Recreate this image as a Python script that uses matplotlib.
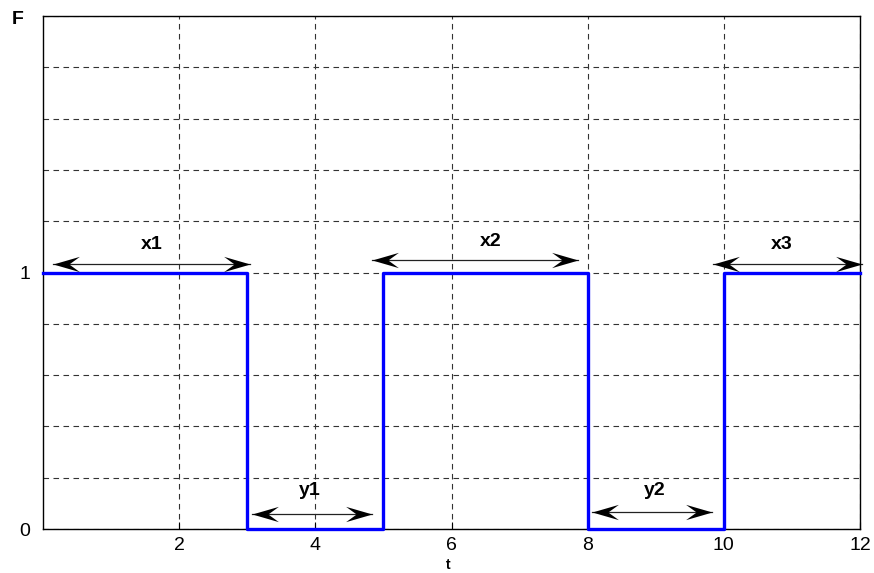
import matplotlib
matplotlib.use("Agg")
import matplotlib.pyplot as plt
from matplotlib.path import Path

plt.rcParams['font.family'] = ['Liberation Sans', 'DejaVu Sans']

# Data
t_edges = [0, 3, 5, 8, 10, 12]
F_levels = [1, 0, 1, 0, 1, 1]
x_ticks = [2, 4, 6, 8, 10, 12]
x_tick_labels = ['2', '4', '6', '8', '10', '12']
y_ticks = [0, 0.2, 0.4, 0.6, 0.8, 1.0, 1.2, 1.4, 1.6, 1.8, 2.0]
y_tick_labels = ['0', '', '', '', '', '1', '', '', '', '', '']

# Interval annotations: (label, start, end, arrow y, label x, label y)
intervals = [
    ('x1', 0.15, 3.04, 1.035, 1.6, 1.11),
    ('x2', 4.83, 7.86, 1.05, 6.57, 1.12),
    ('x3', 9.84, 12.03, 1.035, 10.85, 1.11),
    ('y1', 3.07, 4.83, 0.058, 3.92, 0.15),
    ('y2', 8.06, 9.83, 0.066, 8.99, 0.15),
]

fig = plt.figure(figsize=(8.74, 5.73), dpi=100)
ax = fig.add_axes([43/874, 1-529/573, (860-43)/874, (529-16)/573])

ax.plot(t_edges, F_levels, drawstyle='steps-post', color='#0000ff',
        linewidth=2.4, clip_on=False, zorder=3)

ax.set_xlim(0, 12)
ax.set_ylim(0, 2)
ax.set_xticks(x_ticks)
ax.set_xticklabels(x_tick_labels)
ax.set_yticks(y_ticks)
ax.set_yticklabels(y_tick_labels)
ax.tick_params(direction='in', length=5, labelsize=14, width=0.8, pad=6)
ax.tick_params(axis='y', length=0, pad=9)
ax.grid(True, linestyle=(0, (5, 4)), color='#333333', linewidth=0.8)
for s in ax.spines.values():
    s.set_linewidth(1.0)
    s.set_color('black')

# barbed arrow heads (pointing right / left), tip at origin
right_head = Path([(0, 0), (-1, 0.29), (-0.6, 0), (-1, -0.29), (0, 0)],
                  [Path.MOVETO, Path.LINETO, Path.LINETO, Path.LINETO, Path.CLOSEPOLY])
left_head = Path([(0, 0), (1, 0.29), (0.6, 0), (1, -0.29), (0, 0)],
                 [Path.MOVETO, Path.LINETO, Path.LINETO, Path.LINETO, Path.CLOSEPOLY])

for lab, a, b, yy, lx, ly in intervals:
    ax.plot([a, b], [yy, yy], color='#222222', linewidth=0.9, clip_on=False, zorder=4)
    ax.plot([b], [yy], marker=right_head, markersize=38, color='black',
            markeredgewidth=0, clip_on=False, zorder=4, linestyle='none')
    ax.plot([a], [yy], marker=left_head, markersize=38, color='black',
            markeredgewidth=0, clip_on=False, zorder=4, linestyle='none')
    ax.text(lx, ly, lab, ha='center', va='center', fontsize=14,
            fontweight='bold')

fig.text(18/874, 1-20/573, 'F', ha='center', va='center', fontsize=14,
         fontweight='bold')
fig.text(448/874, 1-572/573, 't', ha='center', va='bottom', fontsize=10,
         fontweight='bold')

fig.savefig('out.png', dpi=100)
